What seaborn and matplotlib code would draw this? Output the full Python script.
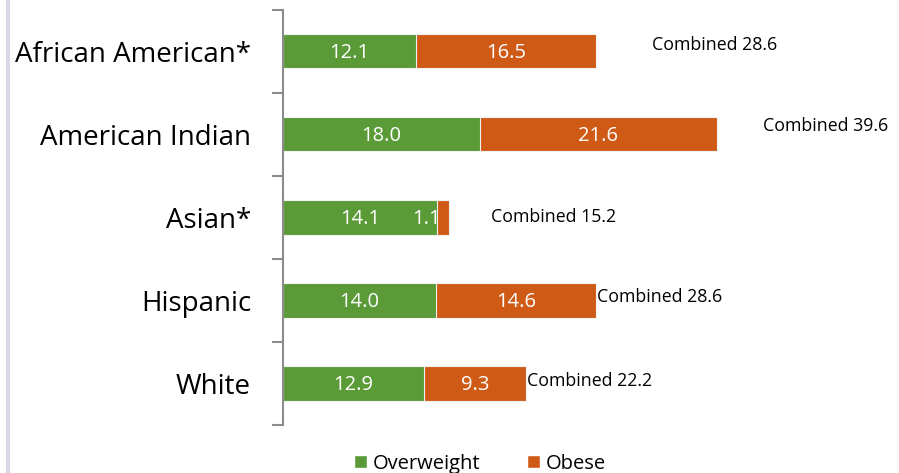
import pandas as pd
import seaborn as sns
import matplotlib.pyplot as plt
from matplotlib.patches import Patch
from matplotlib.lines import Line2D

# data
groups = ["African American*", "American Indian", "Asian*", "Hispanic", "White"]
overweight = [12.1, 18.0, 14.1, 14.0, 12.9]
obese = [16.5, 21.6, 1.1, 14.6, 9.3]

# where the "Combined" text sits past the bar end (data units)
label_gap = [5.1, 4.2, 3.8, 0.1, 0.1]
label_dy = [-0.08, -0.1, 0.0, -0.04, -0.03]

green = "#5a9a37"
orange = "#cf5a16"

df = pd.DataFrame({"group": groups, "Overweight": overweight, "Obese": obese})
df["Combined"] = df["Overweight"] + df["Obese"]

sns.set_style("white")
plt.rcParams["font.family"] = ["Open Sans", "DejaVu Sans"]

fig = plt.figure(figsize=(8.99, 4.73), dpi=100)
ax = fig.add_axes([0.3148, 0.1015, 0.6852, 0.8774])

# stacked: total bar in orange, overweight drawn over it in green
sns.barplot(data=df, y="group", x="Combined", color=orange, orient="h", saturation=1,
            width=0.41, edgecolor="#f2f2f2", linewidth=0.8, ax=ax)
sns.barplot(data=df, y="group", x="Overweight", color=green, orient="h", saturation=1,
            width=0.41, edgecolor="#f2f2f2", linewidth=0.8, ax=ax)

ax.set_xlim(0, 56.25)
ax.set_ylim(4.5, -0.5)

for i, row in df.iterrows():
    ax.text(row["Overweight"] / 2, i + 0.02, f'{row["Overweight"]:.1f}', color="white",
            ha="center", va="center", fontsize=14.5)
    if row["Obese"] < 3:
        ax.text(row["Combined"] - 0.75, i + 0.02, f'{row["Obese"]:.1f}', color="white",
                ha="right", va="center", fontsize=14.5)
    else:
        ax.text(row["Overweight"] + row["Obese"] / 2, i + 0.02, f'{row["Obese"]:.1f}',
                color="white", ha="center", va="center", fontsize=14.5)
    ax.text(row["Combined"] + label_gap[i], i + label_dy[i], f'Combined {row["Combined"]:.1f}',
            color="black", ha="left", va="center", fontsize=12.8)

# axis styling
for s in ["top", "right", "bottom"]:
    ax.spines[s].set_visible(False)
ax.spines["left"].set_color("#8c8c8c")
ax.spines["left"].set_linewidth(1.5)
ax.set_xticks([])
ax.set_xlabel("")
ax.set_ylabel("")
ax.set_yticks(range(len(groups)))
ax.set_yticklabels(groups, fontsize=20, color="black")
ax.tick_params(axis="y", which="major", length=0, pad=23)
ax.set_yticks([i - 0.5 for i in range(len(groups) + 1)], minor=True)
ax.tick_params(axis="y", which="minor", left=True, length=8, width=1.5,
               color="#8c8c8c", direction="out")

handles = [Patch(facecolor=green, label="Overweight"), Patch(facecolor=orange, label="Obese")]
leg = fig.legend(handles=handles, loc="lower center", bbox_to_anchor=(0.534, -0.04), ncol=2,
                 frameon=False, fontsize=14.5, handlelength=0.65, handleheight=0.65,
                 handletextpad=0.3, columnspacing=2.3)
for t in leg.get_texts():
    t.set_color("black")

# slide edge line on the left
fig.add_artist(Line2D([0.009, 0.009], [0, 1], transform=fig.transFigure,
                      color="#ddd6ea", linewidth=3))

fig.savefig("out.png", dpi=100)
